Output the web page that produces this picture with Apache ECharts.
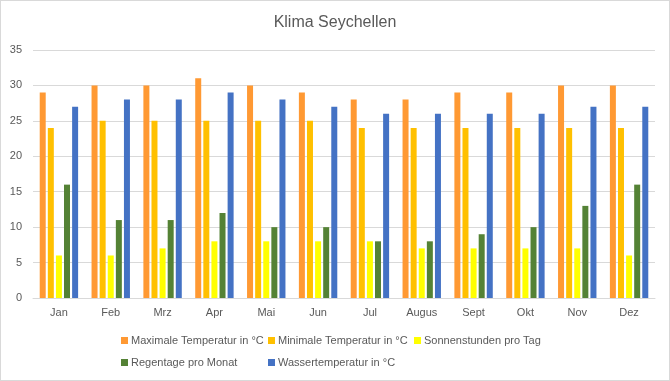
<!DOCTYPE html>
<html><head><meta charset="utf-8">
<script src="https://cdn.jsdelivr.net/npm/echarts@6/dist/echarts.min.js"></script>
<style>html,body{margin:0;padding:0;background:#fff}#c{width:670px;height:381px;box-sizing:border-box;border:1px solid #d9d9d9}</style>
</head><body><div id="c"></div>
<script>
var categories = ["Jan","Feb","Mrz","Apr","Mai","Jun","Jul","Augus","Sept","Okt","Nov","Dez"];
var seriesNames = ["Maximale Temperatur in °C","Minimale Temperatur in °C","Sonnenstunden pro Tag","Regentage pro Monat","Wassertemperatur in °C"];
var maxTemp = [29,30,30,31,30,29,28,28,29,29,30,30];
var minTemp = [24,25,25,25,25,25,24,24,24,24,24,24];
var sunHours = [6,6,7,8,8,8,8,7,7,7,7,6];
var rainDays = [16,11,11,12,10,10,8,8,9,10,13,16];
var waterTemp = [27,28,28,29,28,27,26,26,26,26,27,27];
var yTicks = [0,5,10,15,20,25,30,35];

var colors = ["#FF9933","#FFC000","#FFFF00","#548235","#4472C4"];
var data = [maxTemp,minTemp,sunHours,rainDays,waterTemp];
var font = "'Liberation Sans', Arial, sans-serif";
var txt = {color:"#595959",fontSize:11,fontFamily:font};
var legendPos = [[120,334],[267,334],[413,334],[120,356],[267,356]];
var chart = echarts.init(document.getElementById('c'));
chart.setOption({
  animation:false,
  color:colors,
  title:{text:"Klima Seychellen",left:"center",top:9,textStyle:{color:"#595959",fontSize:16,fontWeight:"normal",fontFamily:font}},
  legend: seriesNames.map(function(n,i){return {data:[n],left:legendPos[i][0],top:legendPos[i][1],padding:0,itemWidth:7,itemHeight:7,icon:"rect",itemGap:4,textStyle:Object.assign({padding:[0,0,0,-2]},txt),selectedMode:false};}),
  grid:{left:32,right:14,top:49,bottom:82},
  xAxis:{type:"category",data:categories,axisLine:{lineStyle:{color:"#d9d9d9"}},axisTick:{show:false},axisLabel:Object.assign({margin:9},txt)},
  yAxis:{type:"value",min:yTicks[0],max:yTicks[yTicks.length-1],interval:5,axisLine:{show:false},axisTick:{show:false},axisLabel:Object.assign({margin:11},txt),splitLine:{lineStyle:{color:"#d9d9d9"}}},
  series: seriesNames.map(function(n,i){return {name:n,type:"bar",data:data[i],barWidth:6,barGap:"35%",itemStyle:{color:colors[i]}};})
});
</script></body></html>
